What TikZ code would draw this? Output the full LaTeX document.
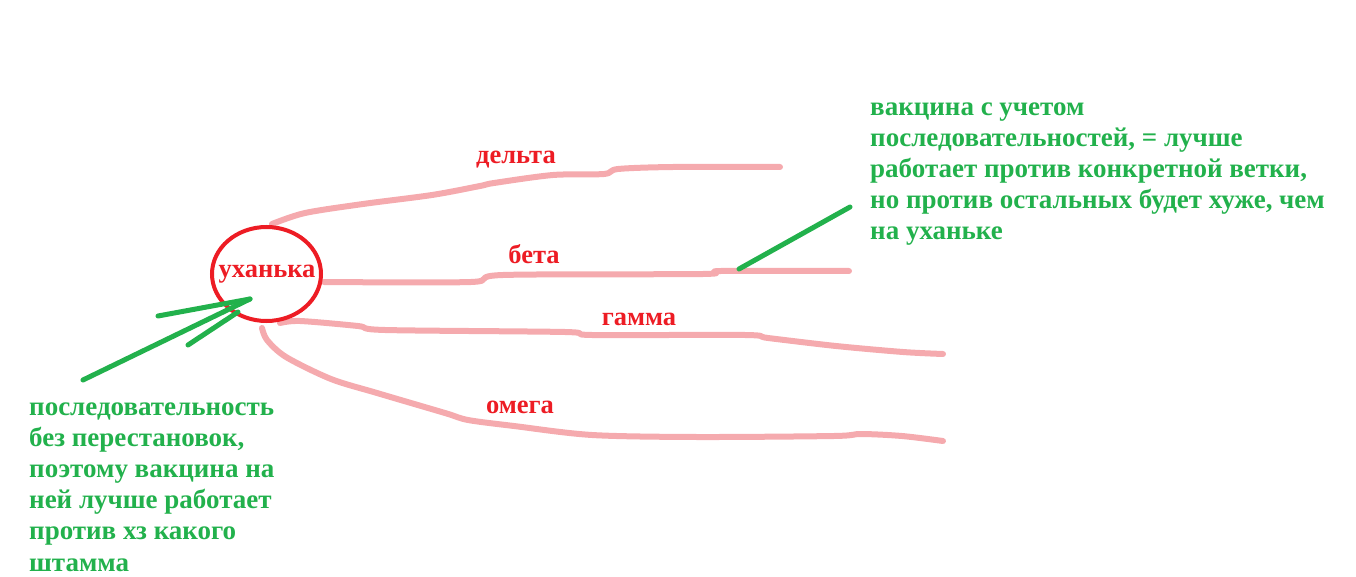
\documentclass[tikz,border=0pt]{standalone}
\usepackage{fontspec}
\setmainfont{Liberation Serif}
\usetikzlibrary{shapes.geometric}
\definecolor{pinkline}{RGB}{245,170,174}
\definecolor{mred}{RGB}{237,28,36}
\definecolor{mgreen}{RGB}{34,177,76}
\tikzset{
  branch/.style={draw=pinkline, line width=6pt, line cap=round, line join=round},
  greenstroke/.style={draw=mgreen, line width=5pt, line cap=round},
  redlabel/.style={text=mred, font=\fontsize{26.5}{28}\selectfont\bfseries, inner sep=0pt},
  greentext/.style={text=mgreen, font=\fontsize{27}{31.2}\selectfont\bfseries, inner sep=0pt, align=left, anchor=base west},
  ring/.style={draw=mred, line width=4pt, ellipse, minimum width=109pt, minimum height=94pt, inner sep=0pt}
}
\begin{document}
\begin{tikzpicture}[x=1pt,y=-1pt]
\useasboundingbox (0,0) rectangle (1356,577);
% branches
\draw[branch] plot[smooth, tension=0.5] coordinates {(272,224) (305,213) (363,204) (432,195) (480,186) (494,183) (553,175) (604,174) (618,169) (673,167) (780,167)};
\draw[branch] plot[smooth, tension=0.5] coordinates {(324,282) (471,282) (503,275) (703,274) (721,271) (849,271)};
\draw[branch] plot[smooth, tension=0.5] coordinates {(280,323) (300,321) (358,326) (385,330) (565,332) (592,335) (745,335) (768,338) (836,346) (903,352) (943,354)};
\draw[branch] plot[smooth, tension=0.5] coordinates {(262,328) (267,340) (286,357) (331,379) (377,393) (445,413) (468,420) (514,426) (592,435) (697,437) (834,436) (861,434) (902,436) (943,441)};
% circle
\node[ring] (ux) at (266.5,274) {};
\node[redlabel] (uxl) at (267,274) {уханька};
% labels
\node[redlabel] (delta) at (516,160) {дельта};
\node[redlabel] (beta) at (534,254) {бета};
\node[redlabel] (gamma) at (639,319) {гамма};
\node[redlabel] (omega) at (520,407) {омега};
% green arrow
\coordinate (tip) at (250,299);
\coordinate (tail) at (83,380);
\coordinate (barbA) at (158,316);
\coordinate (barbB) at (188,345);
\coordinate (barbBend) at (238,312);
\draw[greenstroke] (tail) -- (tip);
\draw[greenstroke] (barbA) -- (tip);
\draw[greenstroke] (barbB) -- (barbBend);
% right pointer
\coordinate (pA) at (739,269);
\coordinate (pB) at (850,207);
\draw[greenstroke] (pA) -- (pB);
% texts
\node[greentext] (rtext) at (870,240) {вакцина с учетом\\последовательностей, = лучше\\работает против конкретной ветки,\\но против остальных будет хуже, чем\\на уханьке};
\node[greentext] (ltext) at (29,571) {последовательность\\без перестановок,\\поэтому вакцина на\\ней лучше работает\\против хз какого\\штамма};
\end{tikzpicture}
\end{document}
